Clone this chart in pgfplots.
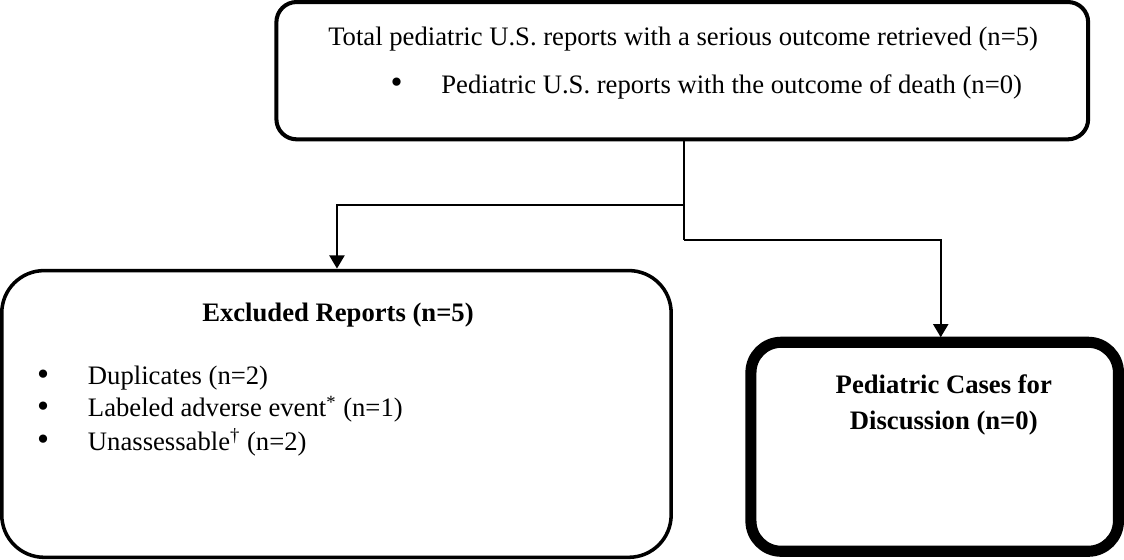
\documentclass[border=0pt]{standalone}
\usepackage{fontspec}
\setmainfont{Liberation Serif}
\usepackage{pgfplots}
\pgfplotsset{compat=1.18}
\usetikzlibrary{arrows.meta}
\begin{document}
\begin{tikzpicture}[
  txt/.style={font=\fontsize{13.2}{16}\selectfont, inner sep=0pt},
  bul/.style={font=\fontsize{17}{17}\selectfont, inner sep=0pt, anchor=center},
  btxt/.style={font=\fontsize{13.2}{16}\selectfont\bfseries, inner sep=0pt}]
\begin{axis}[
  hide axis, scale only axis,
  width=562pt, height=283.5pt,
  xmin=0, xmax=1124, ymin=0, ymax=567,
  y dir=reverse, clip=false]
% boxes
\addplot[black, line width=2pt, rounded corners=10pt, line join=round, mark=none]
  coordinates {(686,14) (1088,14) (1088,150) (284,150) (284,14) (686,14)};
\addplot[black, line width=1.75pt, rounded corners=21pt, line join=round, mark=none]
  coordinates {(344,280) (675,280) (675,564) (12,564) (12,280) (344,280)};
\addplot[black, line width=5.5pt, rounded corners=15pt, line join=round, mark=none]
  coordinates {(936,351) (1118,351) (1118,558) (754,558) (754,351) (936,351)};
% connectors
\addplot[black, line width=0.8pt, mark=none]
  coordinates {(688,150) (688,250)};
\addplot[black, line width=0.8pt, mark=none, -{Triangle[width=7.5pt,length=6.5pt]}]
  coordinates {(688,215) (344,215) (344,278)};
\addplot[black, line width=0.8pt, mark=none, -{Triangle[width=7.5pt,length=6.5pt]}]
  coordinates {(688,250) (942,250) (942,346)};
% top box text
\node[txt, anchor=base west] at (axis cs:335,57) {Total pediatric U.S. reports with a serious outcome retrieved (n=5)};
\node[bul] at (axis cs:403,97) {•};
\node[txt, anchor=base west] at (axis cs:447,105) {Pediatric U.S. reports with the outcome of death (n=0)};
% left box text
\node[btxt, anchor=base] at (axis cs:345,330) {Excluded Reports (n=5)};
\node[bul] at (axis cs:53,386) {•};
\node[txt, anchor=base west] at (axis cs:97,393) {Duplicates (n=2)};
\node[bul] at (axis cs:53,418) {•};
\node[txt, anchor=base west] at (axis cs:97,425) {Labeled adverse event\textsuperscript{*} (n=1)};
\node[bul] at (axis cs:53,451) {•};
\node[txt, anchor=base west] at (axis cs:97,458) {Unassessable\textsuperscript{†} (n=2)};
% right box text
\node[btxt, anchor=base] at (axis cs:945,402) {Pediatric Cases for};
\node[btxt, anchor=base] at (axis cs:945,437) {Discussion (n=0)};
\end{axis}
\end{tikzpicture}
\end{document}
